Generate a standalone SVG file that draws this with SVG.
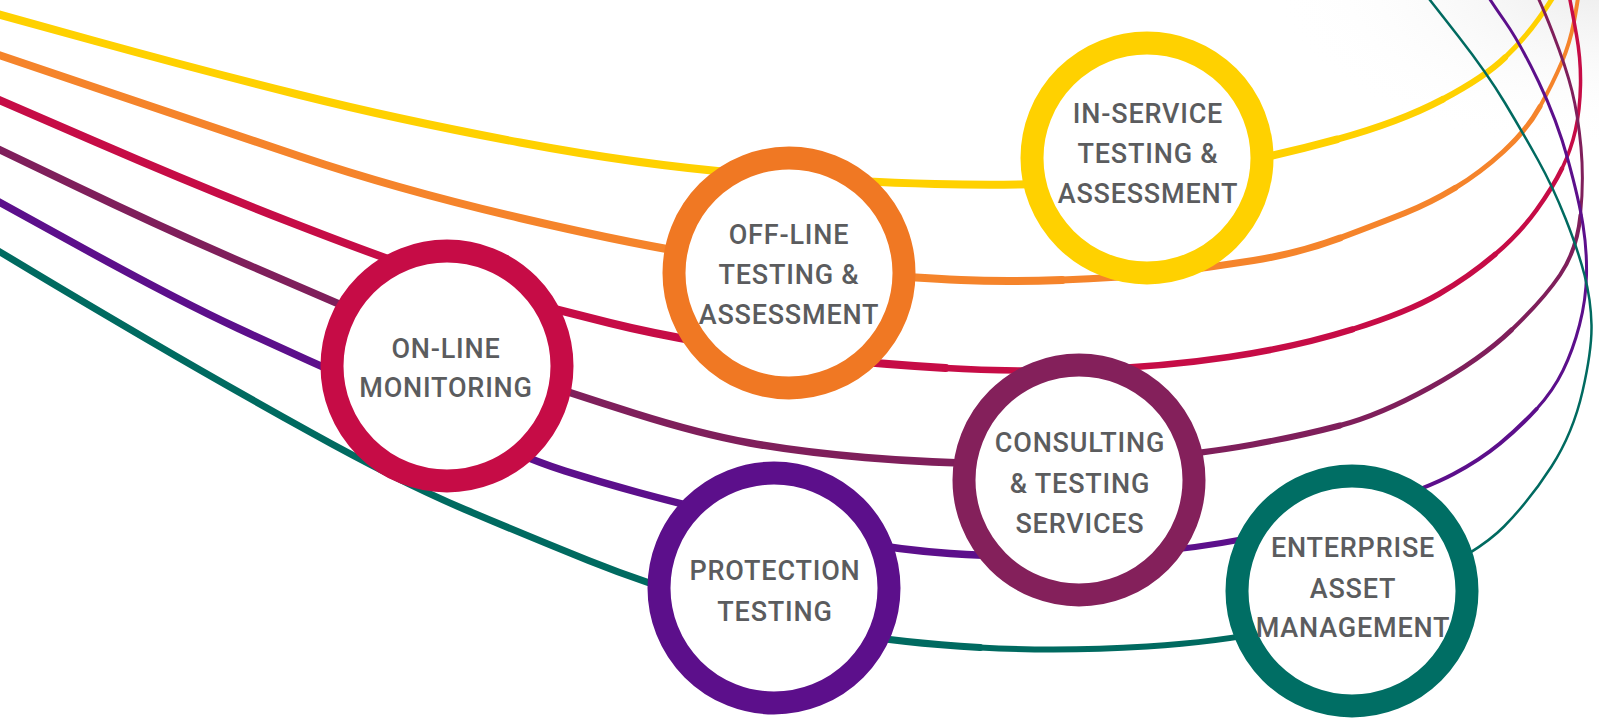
<svg xmlns="http://www.w3.org/2000/svg" width="1599" height="719" viewBox="0 0 1599 719">
<defs>
<radialGradient id="shade" cx="0.5" cy="0.5" r="0.5">
<stop offset="0" stop-color="#ebebeb"/>
<stop offset="1" stop-color="#ffffff" stop-opacity="0"/>
</radialGradient>
<style>
.ln{fill:none;stroke-linecap:round;stroke-linejoin:round}
.ring{fill:#ffffff;stroke-width:23}
.lbl{font-family:Roboto,"Liberation Sans",Arial,sans-serif;font-size:27px;font-weight:500;letter-spacing:0.8px;fill:#5B5C5E;text-anchor:middle}
.y{stroke:#FFD100}.o{stroke:#F5842B}.c{stroke:#C60C46}.p{stroke:#7F1F5B}.v{stroke:#5C0F8B}.t{stroke:#006A60}
</style>
</defs>
<rect width="1599" height="719" fill="#ffffff"/>
<ellipse cx="1600" cy="-20" rx="330" ry="170" fill="url(#shade)"/>
<g id="connectors">
<path class="ln y" stroke-width="8" d="M -10 12 L 95 41 Q 200 70 300 95 Q 400 120 520 142.5 Q 640 165 745 173.5 Q 850 182 935 184 Q 1020 186 1085 182 Q 1150 178 1211.5 167.5 Q 1273 157 1336.5 139.5"/>
<path class="ln y" stroke-width="7" d="M 1336.5 139.5 Q 1400 122 1442.5 99.5"/>
<path class="ln y" stroke-width="6" d="M 1442.5 99.5 Q 1485 77 1505 57.5"/>
<path class="ln y" stroke-width="5" d="M 1505 57.5 Q 1525 38 1538.5 19 Q 1552 0 1557 -10 L 1562 -20"/>
<path class="ln o" stroke-width="8" d="M -10 52 L 95 87.5 Q 200 123 300 156.5 Q 400 190 520 218 Q 640 246 715 257 Q 790 268 853 273 Q 916 278 961 280 Q 1006 282 1062 280"/>
<path class="ln o" stroke-width="7" d="M 1062 280 Q 1118 278 1162.5 273 Q 1207 268 1253.5 260.5 Q 1300 253 1340 238"/>
<path class="ln o" stroke-width="6" d="M 1340 238 Q 1380 223 1405 213 Q 1430 203 1455 188"/>
<path class="ln o" stroke-width="5" d="M 1455 188 Q 1480 173 1503.5 151.5 Q 1527 130 1540 106.5"/>
<path class="ln o" stroke-width="4" d="M 1540 106.5 Q 1553 83 1561.5 63 Q 1570 43 1574 21.5 Q 1578 0 1579 -10 L 1580 -20"/>
<path class="ln c" stroke-width="8" d="M -10 96 L 95 141.5 Q 200 187 290 222 Q 380 257 430 273.5 Q 480 290 525 301.5 Q 570 313 610 323 Q 650 333 705 342.5 Q 760 352 820 358 Q 880 364 945.5 368"/>
<path class="ln c" stroke-width="6.5" d="M 945.5 368 Q 1011 372 1086.5 369.5 Q 1162 367 1229 357 Q 1296 347 1352 329.5"/>
<path class="ln c" stroke-width="5.5" d="M 1352 329.5 Q 1408 312 1439 294 Q 1470 276 1495 254.5"/>
<path class="ln c" stroke-width="4.5" d="M 1495 254.5 Q 1520 233 1536.5 210 Q 1553 187 1562 168.5"/>
<path class="ln c" stroke-width="3.5" d="M 1562 168.5 Q 1571 150 1575.5 130 Q 1580 110 1580.5 85 Q 1581 60 1576.5 35 Q 1572 10 1569 -5 L 1566 -20"/>
<path class="ln p" stroke-width="7.5" d="M -10 145 L 78.5 187.5 Q 167 230 248.5 265 Q 330 300 390 326 Q 450 352 510 372.5 Q 570 393 635 413.5 Q 700 434 750 443 Q 800 452 865 457.5 Q 930 463 1004.5 464"/>
<path class="ln p" stroke-width="6" d="M 1004.5 464 Q 1079 465 1142.5 459 Q 1206 453 1253 444.5 Q 1300 436 1340 425.5"/>
<path class="ln p" stroke-width="5" d="M 1340 425.5 Q 1380 415 1430 387.5 Q 1480 360 1511.5 330"/>
<path class="ln p" stroke-width="4" d="M 1511.5 330 Q 1543 300 1560 275 Q 1577 250 1580.5 215"/>
<path class="ln p" stroke-width="3" d="M 1580.5 215 Q 1584 180 1581 147.5 Q 1578 115 1572 91 Q 1566 67 1553 33.5 Q 1540 0 1534 -10 L 1528 -20"/>
<path class="ln v" stroke-width="7.5" d="M -10 197 L 83.5 248.5 Q 177 300 238.5 328.5 Q 300 357 360 383.5 Q 420 410 475 435 Q 530 460 565 471 Q 600 482 638.5 492.5 Q 677 503 733.5 516.5 Q 790 530 845 540 Q 900 550 950 553.5 Q 1000 557 1060 556"/>
<path class="ln v" stroke-width="6" d="M 1060 556 Q 1120 555 1170 550 Q 1220 545 1275 532.5 Q 1330 520 1378.5 504"/>
<path class="ln v" stroke-width="4" d="M 1378.5 504 Q 1427 488 1453.5 474 Q 1480 460 1500 443.5 Q 1520 427 1536.5 409"/>
<path class="ln v" stroke-width="3" d="M 1536.5 409 Q 1553 391 1563 370.5 Q 1573 350 1579.5 325 Q 1586 300 1586.5 275 Q 1587 250 1583 225 Q 1579 200 1568 160 Q 1557 120 1538.5 81.5 Q 1520 43 1505 21.5 Q 1490 0 1484 -10 L 1478 -20"/>
<path class="ln t" stroke-width="7" d="M -10 246 L 35 273 Q 80 300 150 341 Q 220 382 310 432 Q 400 482 465 509.5 Q 530 537 588.5 560.5 Q 647 584 711 602 Q 775 620 837.5 631.5 Q 900 643 980 647.5"/>
<path class="ln t" stroke-width="6" d="M 980 647.5 Q 1060 652 1147 646.5 Q 1234 641 1293 625.5 Q 1352 610 1415 581.5"/>
<path class="ln t" stroke-width="2.5" d="M 1415 581.5 Q 1478 553 1504 526.5 Q 1530 500 1551.5 466.5 Q 1573 433 1582.5 391.5 Q 1592 350 1591.5 325 Q 1591 300 1584.5 275 Q 1578 250 1565.5 218.5 Q 1553 187 1538 160 Q 1523 133 1505 103 Q 1487 73 1458.5 36.5 Q 1430 0 1422 -10 L 1414 -20"/>
</g>
<g id="in-service">
<circle class="ring" cx="1147" cy="158" r="115" stroke="#FFD100"/>
<text class="lbl" x="1148" y="123">IN-SERVICE</text>
<text class="lbl" x="1148" y="163">TESTING &amp;</text>
<text class="lbl" x="1148" y="203">ASSESSMENT</text>
</g>
<g id="off-line">
<circle class="ring" cx="789" cy="273" r="115" stroke="#F07823"/>
<text class="lbl" x="789" y="244">OFF-LINE</text>
<text class="lbl" x="789" y="284">TESTING &amp;</text>
<text class="lbl" x="789" y="324">ASSESSMENT</text>
</g>
<g id="on-line">
<circle class="ring" cx="447" cy="366" r="115" stroke="#C60C46"/>
<text class="lbl" x="446" y="358">ON-LINE</text>
<text class="lbl" x="446" y="397">MONITORING</text>
</g>
<g id="consulting">
<circle class="ring" cx="1079" cy="480" r="115" stroke="#84205B"/>
<text class="lbl" x="1080" y="452">CONSULTING</text>
<text class="lbl" x="1080" y="493">&amp; TESTING</text>
<text class="lbl" x="1080" y="533">SERVICES</text>
</g>
<g id="protection">
<circle class="ring" cx="774" cy="588" r="115" stroke="#5C0F8B"/>
<text class="lbl" x="775" y="580">PROTECTION</text>
<text class="lbl" x="775" y="621">TESTING</text>
</g>
<g id="enterprise">
<circle class="ring" cx="1352" cy="591" r="115" stroke="#006E64"/>
<text class="lbl" x="1353" y="557">ENTERPRISE</text>
<text class="lbl" x="1353" y="598">ASSET</text>
<text class="lbl" x="1353" y="637">MANAGEMENT</text>
</g>
</svg>
